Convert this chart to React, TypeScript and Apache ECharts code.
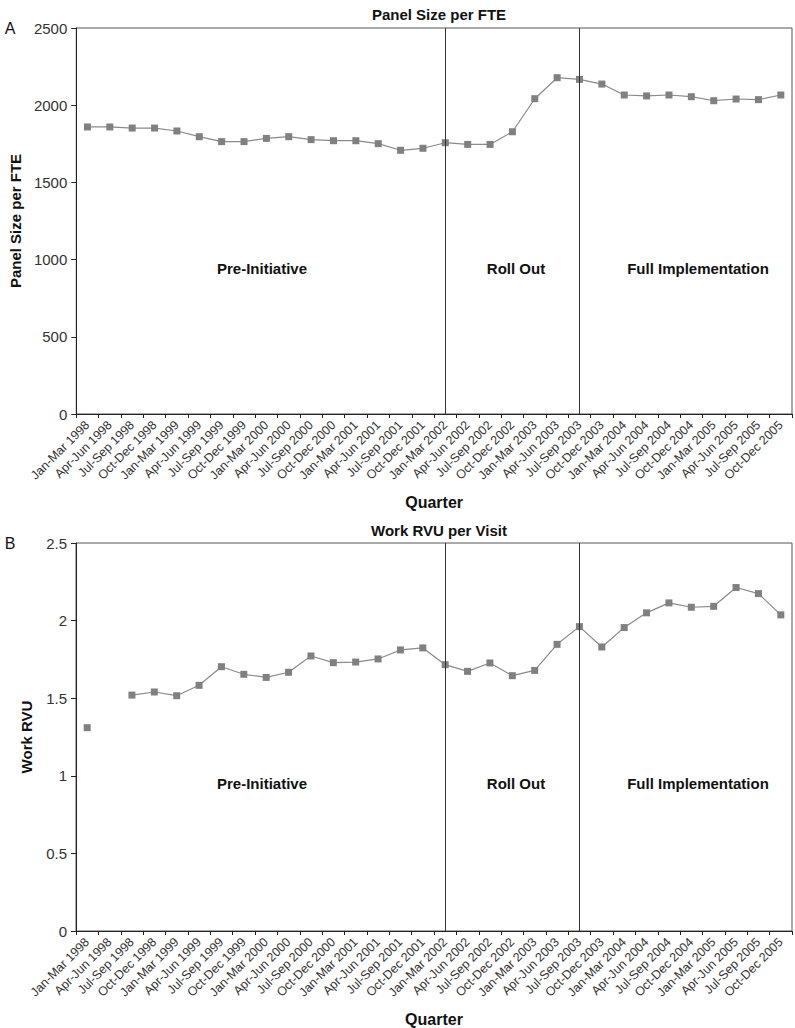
import React, { useEffect, useRef } from "react";
import * as echarts from "echarts";

const quarters = [
  "Jan-Mar 1998", "Apr-Jun 1998", "Jul-Sep 1998", "Oct-Dec 1998",
  "Jan-Mar 1999", "Apr-Jun 1999", "Jul-Sep 1999", "Oct-Dec 1999",
  "Jan-Mar 2000", "Apr-Jun 2000", "Jul-Sep 2000", "Oct-Dec 2000",
  "Jan-Mar 2001", "Apr-Jun 2001", "Jul-Sep 2001", "Oct-Dec 2001",
  "Jan-Mar 2002", "Apr-Jun 2002", "Jul-Sep 2002", "Oct-Dec 2002",
  "Jan-Mar 2003", "Apr-Jun 2003", "Jul-Sep 2003", "Oct-Dec 2003",
  "Jan-Mar 2004", "Apr-Jun 2004", "Jul-Sep 2004", "Oct-Dec 2004",
  "Jan-Mar 2005", "Apr-Jun 2005", "Jul-Sep 2005", "Oct-Dec 2005",
];

const panelSize = [
  1859, 1859, 1852, 1852, 1833, 1796, 1764, 1764,
  1785, 1796, 1777, 1770, 1770, 1751, 1708, 1721,
  1757, 1746, 1746, 1828, 2042, 2178, 2167, 2137,
  2066, 2060, 2066, 2055, 2029, 2040, 2036, 2066,
];

const workRvu: (number | null)[] = [
  1.31, null, 1.52, 1.54, 1.516, 1.583, 1.703, 1.654,
  1.634, 1.667, 1.772, 1.729, 1.733, 1.753, 1.811, 1.824,
  1.716, 1.673, 1.727, 1.645, 1.679, 1.847, 1.961, 1.83,
  1.955, 2.05, 2.114, 2.086, 2.092, 2.213, 2.174, 2.037,
];

const phaseBoundaries = ["Jan-Mar 2002", "Jul-Sep 2003"];
const phaseLabels = ["Pre-Initiative", "Roll Out", "Full Implementation"];

const FONT = "'Liberation Sans', Arial, Helvetica, sans-serif";

export default function App() {
  const ref = useRef<HTMLDivElement>(null);
  useEffect(() => {
    if (!ref.current) return;
    const chart = echarts.init(ref.current, null, { renderer: "svg" });

    const xAxisBase = (gridIndex: number) => ({
      type: "category" as const,
      gridIndex,
      data: quarters,
      boundaryGap: true,
      name: "Quarter",
      nameLocation: "middle" as const,
      nameGap: 80,
      nameTextStyle: { fontFamily: FONT, fontWeight: "bold", fontSize: 16, color: "#111" },
      axisLine: { lineStyle: { color: "#222", width: 1 } },
      axisTick: { show: true, length: 4, alignWithLabel: false, lineStyle: { color: "#222" } },
      axisLabel: {
        rotate: 45,
        interval: 0,
        fontFamily: FONT,
        fontSize: 12.5,
        color: "#333",
        margin: 9,
      },
      splitLine: { show: false },
    });

    const yAxisBase = (
      gridIndex: number,
      max: number,
      interval: number,
      name: string,
      nameGap: number
    ) => ({
      type: "value" as const,
      gridIndex,
      min: 0,
      max,
      interval,
      name,
      nameLocation: "middle" as const,
      nameGap,
      nameTextStyle: { fontFamily: FONT, fontWeight: "bold", fontSize: 15, color: "#111" },
      axisLine: { show: true, lineStyle: { color: "#222", width: 1 } },
      axisTick: { show: true, length: 5, lineStyle: { color: "#222" } },
      axisLabel: {
        fontFamily: FONT,
        fontSize: 15,
        color: "#333",
        margin: 9,
        formatter: (v: number) => String(v),
      },
      splitLine: { show: false },
    });

    const markLine = {
      silent: true,
      symbol: "none",
      label: { show: false },
      lineStyle: { color: "#333", width: 1, type: "solid" as const },
      data: phaseBoundaries.map((q) => ({ xAxis: q })),
    };

    const seriesBase = {
      type: "line" as const,
      symbol: "rect",
      symbolSize: 7,
      connectNulls: false,
      itemStyle: { color: "#808080" },
      lineStyle: { color: "#8a8a8a", width: 1.2 },
      markLine,
    };

    const phaseText = (y: number) =>
      [262, 516, 698].map((x, i) => ({
        type: "text",
        x,
        y,
        style: {
          text: phaseLabels[i],
          fontFamily: FONT,
          fontWeight: "bold",
          fontSize: 15,
          fill: "#111",
          align: "center",
          verticalAlign: "middle",
        },
      }));

    chart.setOption({
      animation: false,
      backgroundColor: "#fff",
      title: [
        {
          text: "Panel Size per FTE",
          left: 434,
          top: 2,
          textAlign: "center",
          textStyle: { fontFamily: FONT, fontWeight: "bold", fontSize: 15, color: "#111" },
        },
        {
          text: "Work RVU per Visit",
          left: 434,
          top: 518,
          textAlign: "center",
          textStyle: { fontFamily: FONT, fontWeight: "bold", fontSize: 15, color: "#111" },
        },
      ],
      grid: [
        { left: 76, right: 3, top: 28, height: 386, show: true, borderColor: "#555", borderWidth: 1 },
        { left: 76, right: 3, top: 543, height: 388, show: true, borderColor: "#555", borderWidth: 1 },
      ],
      xAxis: [xAxisBase(0), xAxisBase(1)],
      yAxis: [
        yAxisBase(0, 2500, 500, "Panel Size per FTE", 52),
        yAxisBase(1, 2.5, 0.5, "Work RVU", 42),
      ],
      series: [
        { ...seriesBase, xAxisIndex: 0, yAxisIndex: 0, data: panelSize },
        { ...seriesBase, xAxisIndex: 1, yAxisIndex: 1, data: workRvu },
      ],
      graphic: [
        {
          type: "text",
          x: 10,
          y: 28,
          style: { text: "A", fontFamily: FONT, fontSize: 16, fill: "#111", align: "center", verticalAlign: "middle" },
        },
        {
          type: "text",
          x: 10,
          y: 543,
          style: { text: "B", fontFamily: FONT, fontSize: 16, fill: "#111", align: "center", verticalAlign: "middle" },
        },
        ...phaseText(268),
        ...phaseText(783),
      ],
    });
    return () => chart.dispose();
  }, []);

  return (
    <div
      ref={ref}
      style={{ position: "absolute", left: 0, top: 0, width: 795, height: 1028 }}
    />
  );
}
